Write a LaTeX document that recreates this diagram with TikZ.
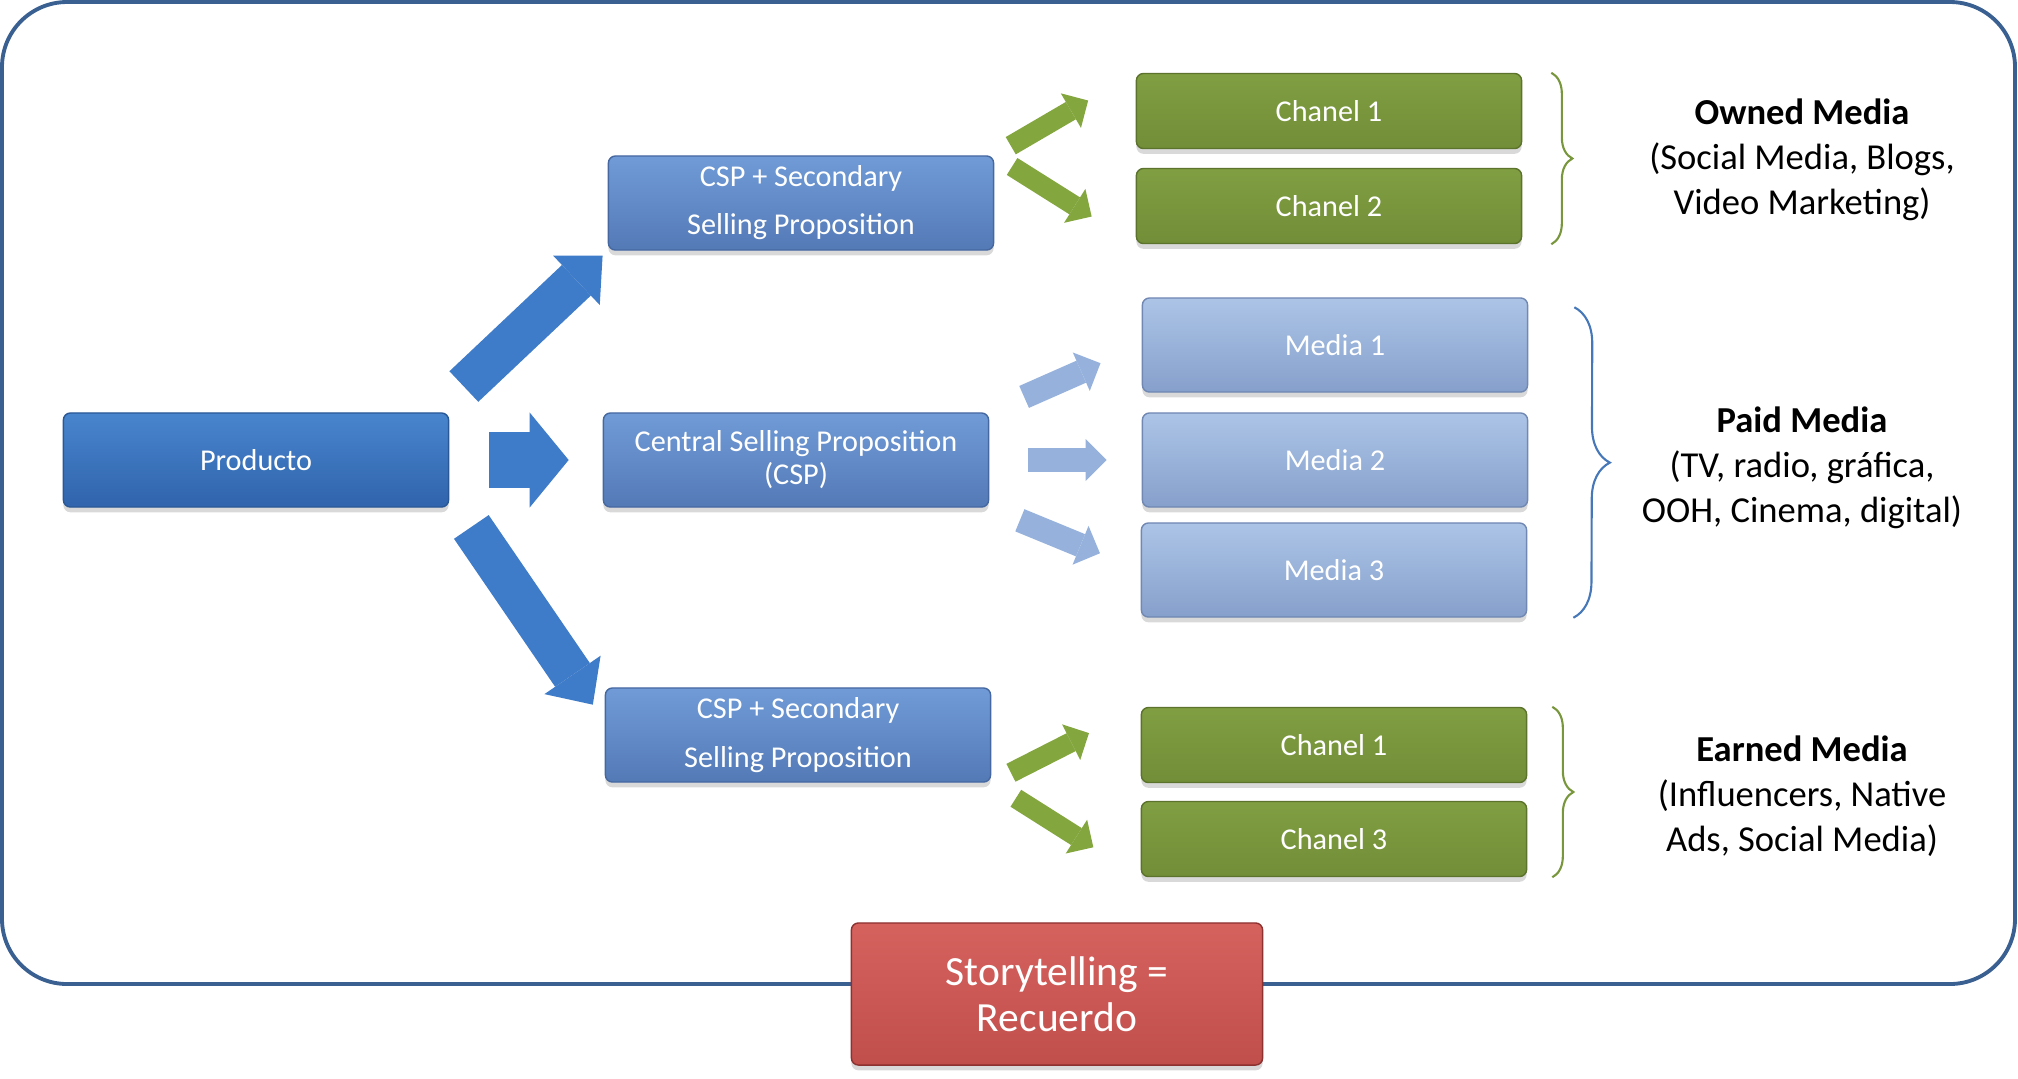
\documentclass[tikz,border=0pt]{standalone}
\usepackage{fontspec}
\setmainfont{Carlito}
\usetikzlibrary{arrows.meta,shadows,decorations.pathreplacing}

\definecolor{prodTop}{RGB}{72,133,205}
\definecolor{prodBot}{RGB}{48,100,172}
\definecolor{prodLine}{RGB}{42,88,150}
\definecolor{cspTop}{RGB}{112,155,215}
\definecolor{cspBot}{RGB}{84,122,182}
\definecolor{cspLine}{RGB}{70,104,160}
\definecolor{mediaTop}{RGB}{172,196,230}
\definecolor{mediaBot}{RGB}{134,160,204}
\definecolor{mediaLine}{RGB}{112,136,178}
\definecolor{greenTop}{RGB}{128,158,66}
\definecolor{greenBot}{RGB}{114,142,56}
\definecolor{greenLine}{RGB}{92,115,45}
\definecolor{redTop}{RGB}{214,98,94}
\definecolor{redBot}{RGB}{192,78,75}
\definecolor{redLine}{RGB}{140,50,48}
\definecolor{frameBlue}{RGB}{58,96,146}
\definecolor{bigArrow}{RGB}{62,123,200}
\definecolor{smallGreen}{RGB}{132,166,62}
\definecolor{smallBlue}{RGB}{150,178,220}
\definecolor{braceGreen}{RGB}{120,150,60}
\definecolor{braceBlue}{RGB}{70,120,185}

\begin{document}
\begin{tikzpicture}[x=0.01cm, y=-0.01cm]
    % Define box styles
    \tikzstyle{box} = [draw, rectangle, rounded corners=2pt, align=center, inner sep=0pt, text=white, minimum width=3.85cm, minimum height=0.94cm, font=\fontsize{8.6}{9.4}\selectfont, drop shadow={shadow xshift=0pt, shadow yshift=-1.5pt, opacity=0.3}]
    \tikzstyle{prodbox} = [box, top color=prodTop, bottom color=prodBot, draw=prodLine]
    \tikzstyle{cspbox} = [box, top color=cspTop, bottom color=cspBot, draw=cspLine]
    \tikzstyle{mediabox} = [box, top color=mediaTop, bottom color=mediaBot, draw=mediaLine]
    \tikzstyle{chanbox} = [box, top color=greenTop, bottom color=greenBot, draw=greenLine, minimum height=0.75cm]
    \tikzstyle{label} = [align=center, font=\fontsize{10.4}{12.8}\selectfont]
    \tikzstyle{bigarrow} = [draw=bigArrow, line width=0.42cm, -{Triangle[length=0.36cm, width=0.68cm, line width=0pt]}]
    \tikzstyle{garrow} = [draw=smallGreen, line width=0.2cm, -{Triangle[length=0.2cm, width=0.4cm, line width=0pt]}]
    \tikzstyle{barrow} = [draw=smallBlue, line width=0.24cm, -{Triangle[length=0.21cm, width=0.42cm, line width=0pt]}]
    \tikzstyle{gbrace} = [draw=braceGreen, line width=0.6pt, decorate, decoration={brace, amplitude=0.21cm}]

    \useasboundingbox (0,0) rectangle (2018,1078);

    % Outer frame
    \draw[frameBlue, line width=1.1pt, rounded corners=0.65cm] (2,2) rectangle (2015,984);

    % Proposition nodes
    \node[prodbox] (prod) at (256,460) {Producto};
    \node[cspbox] (cspup) at (801,203) [font=\fontsize{8.6}{13.7}\selectfont] {CSP + Secondary\\Selling Proposition};
    \node[cspbox] (csp) at (796,460) {Central Selling Proposition\\(CSP)};
    \node[cspbox] (cspdn) at (798,735) [font=\fontsize{8.6}{13.7}\selectfont] {CSP + Secondary\\Selling Proposition};

    % Channel and media nodes
    \node[chanbox] (ch1) at (1329,111) {Chanel 1};
    \node[chanbox] (ch2) at (1329,206) {Chanel 2};
    \node[mediabox] (media1) at (1335,345) {Media 1};
    \node[mediabox] (media2) at (1335,460) {Media 2};
    \node[mediabox] (media3) at (1334,570) {Media 3};
    \node[chanbox] (chb1) at (1334,745) {Chanel 1};
    \node[chanbox] (chb3) at (1334,839) {Chanel 3};

    % Media labels
    \node[label] (owned) at (1802,160) {\textbf{Owned Media}\\(Social Media, Blogs,\\Video Marketing)};
    \node[label] (paid) at (1802,468) {\textbf{Paid Media}\\(TV, radio, gráfica,\\OOH, Cinema, digital)};
    \node[label] (earned) at (1802,796) {\textbf{Earned Media}\\(Influencers, Native\\Ads, Social Media)};

    % Storytelling
    \node[box, top color=redTop, bottom color=redBot, draw=redLine, minimum width=4.11cm, minimum height=1.42cm, font=\fontsize{11.8}{13}\selectfont] (story) at (1057,994) {Storytelling =\\Recuerdo};

    % Big arrows
    \draw[bigarrow, shorten <=0.2cm, shorten >=0.07cm] ([yshift=0.12cm]prod.north east) -- (cspup.south west);
    \draw[bigarrow, line width=0.56cm, -{Triangle[length=0.39cm, width=0.95cm, line width=0pt]}, shorten <=0.4cm, shorten >=0.34cm] (prod.east) -- (csp.west);
    \draw[bigarrow, shorten <=0.39cm, shorten >=0.21cm] ([yshift=0.13cm]prod.south east) -- ([yshift=0.13cm]cspdn.west);

    % Small arrows
    \draw[garrow, shorten <=0.19cm, shorten >=0.55cm] (cspup.north east) -- (ch1.north west);
    \draw[garrow, shorten <=0.21cm, shorten >=0.52cm] (cspup.north east) -- (ch2.south west);
    \draw[barrow, shorten <=0.38cm, shorten >=0.45cm] (csp.north east) -- (media1.west);
    \draw[barrow, shorten <=0.39cm, shorten >=0.35cm] (csp.east) -- (media2.west);
    \draw[barrow, shorten <=0.33cm, shorten >=0.44cm] (csp.south east) -- (media3.west);
    \draw[garrow, shorten <=0.22cm, shorten >=0.58cm] (cspdn.south east) -- (chb1.north west);
    \draw[garrow, shorten <=0.29cm, shorten >=0.56cm] (cspdn.south east) -- (chb3.south west);

    % Braces
    \draw[gbrace] ([xshift=0.29cm]ch1.north east) -- ([xshift=0.29cm]ch2.south east);
    \draw[gbrace, draw=braceBlue, decoration={brace, amplitude=0.36cm}] ([xshift=0.46cm, yshift=-0.1cm]media1.north east) -- ([xshift=0.46cm]media3.south east);
    \draw[gbrace] ([xshift=0.25cm]chb1.north east) -- ([xshift=0.25cm]chb3.south east);
\end{tikzpicture}
\end{document}
